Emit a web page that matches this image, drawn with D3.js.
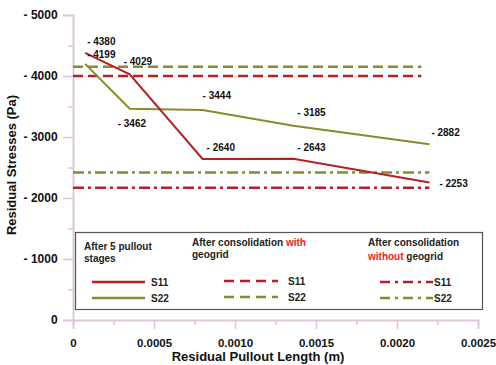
<!DOCTYPE html>
<html><head><meta charset="utf-8">
<script src="https://cdn.jsdelivr.net/npm/d3@7"></script>
<style>body{margin:0;background:#fff}svg{display:block;font-family:"Liberation Sans",Arial,sans-serif;font-weight:bold}</style>
</head><body><svg id="c" width="496" height="365"></svg>
<script>
const xPts = [0.000075, 0.00035, 0.0008, 0.00136, 0.0022];
const s11 = [4380, 4029, 2640, 2643, 2253];
const s22 = [4199, 3462, 3444, 3185, 2882];
const withGeo = {S11: 4000, S22: 4150};
const withoutGeo = {S11: 2170, S22: 2420};
const withEnd = 0.00215, withoutEnd = 0.0022;
const xTicks = [0, 0.0005, 0.0010, 0.0015, 0.0020, 0.0025];
const xTickLabels = ["0", "0.0005", "0.0010", "0.0015", "0.0020", "0.0025"];
const yTicks = [0, 1000, 2000, 3000, 4000, 5000];
const yTickLabels = ["0", "- 1000", "- 2000", "- 3000", "- 4000", "- 5000"];

const red = "#b32127", olive = "#8a8a2c", axisCol = "#d9c6d8";
const svg = d3.select("#c");
const x = d3.scaleLinear().domain([0, 0.0025]).range([73, 478]);
const y = d3.scaleLinear().domain([0, 5000]).range([320, 15]);

// axes
const gx = svg.append("g").attr("transform", "translate(0,320)")
  .call(d3.axisBottom(x).tickValues(xTicks).tickSize(9).tickFormat((d,i)=>xTickLabels[i]));
const gxm = svg.append("g").attr("transform", "translate(0,320)")
  .call(d3.axisBottom(x).tickValues(d3.range(0.00025, 0.0025, 0.0005)).tickSize(5).tickFormat(""));
const gy = svg.append("g").attr("transform", "translate(73,0)")
  .call(d3.axisLeft(y).tickValues(yTicks).tickSize(10).tickFormat((d,i)=>yTickLabels[i]));
const gym = svg.append("g").attr("transform", "translate(73,0)")
  .call(d3.axisLeft(y).tickValues(d3.range(500, 5000, 1000)).tickSize(5).tickFormat(""));
[gx,gxm,gy,gym].forEach(g=>{
  g.select(".domain").attr("stroke", axisCol).attr("stroke-width", 1.5);
  g.selectAll(".tick line").attr("stroke", axisCol).attr("stroke-width", 1.5);
  g.selectAll("text").attr("fill", "#111").style("font-weight", "bold").style("font-family", "Liberation Sans, Arial, sans-serif");
});
gx.selectAll("text").style("font-size", "11.5px").attr("dy", "1.3em");
gy.selectAll("text").style("font-size", "12px").attr("dx", "-0.2em");

// axis titles
svg.append("text").attr("x", 258).attr("y", 361).attr("text-anchor", "middle")
  .style("font-size", "13px").attr("fill", "#111").text("Residual Pullout Length (m)");
svg.append("text").attr("transform", "translate(16,165) rotate(-90)").attr("text-anchor", "middle")
  .style("font-size", "13px").attr("fill", "#111").text("Residual Stresses (Pa)");

// reference lines
const ref = [
  {v: withGeo.S22, c: olive, d: "10,5", e: withEnd},
  {v: withGeo.S11, c: red, d: "10,5", e: withEnd},
  {v: withoutGeo.S22, c: olive, d: "11,4,3,4", e: withoutEnd},
  {v: withoutGeo.S11, c: red, d: "11,4,3,4", e: withoutEnd}
];
ref.forEach(r=>{
  svg.append("line").attr("x1", x(0)).attr("x2", x(r.e)).attr("y1", y(r.v)).attr("y2", y(r.v))
    .attr("stroke", r.c).attr("stroke-width", 2.5).attr("stroke-dasharray", r.d);
});

// series
const line = d3.line().x(d=>x(d[0])).y(d=>y(d[1]));
svg.append("path").datum(xPts.map((v,i)=>[v,s22[i]])).attr("d", line).attr("fill","none").attr("stroke", olive).attr("stroke-width", 2);
svg.append("path").datum(xPts.map((v,i)=>[v,s11[i]])).attr("d", line).attr("fill","none").attr("stroke", red).attr("stroke-width", 2);

// data labels (offsets in px)
const lab11 = [[2,-8],[-6,-9],[4,-8],[4,-8],[10,4]];
const lab22 = [[2,-6],[-12,18],[0,-11],[4,-10],[2,-8]];
function labels(vals, offs){
  vals.forEach((v,i)=>{
    svg.append("text").attr("x", x(xPts[i])+offs[i][0]).attr("y", y(v)+offs[i][1])
      .style("font-size", "10px").attr("fill", "#111").text("- " + v);
  });
}
labels(s11, lab11);
labels(s22, lab22);

// legend
svg.append("rect").attr("x", 75.5).attr("y", 232.5).attr("width", 407).attr("height", 77)
  .attr("fill", "#fff").attr("stroke", "#555").attr("stroke-width", 1.2);
const lt = (xx, yy, parts) => {
  const t = svg.append("text").attr("x", xx).attr("y", yy).style("font-size", "10px").attr("fill", "#222");
  parts.forEach(p=>t.append("tspan").attr("fill", p[1]||"#222").text(p[0]));
};
lt(84, 250, [["After 5 pullout"]]);
lt(84, 262, [["stages"]]);
lt(192, 246, [["After consolidation "], ["with", "#e8242a"]]);
lt(192, 258, [["geogrid"]]);
lt(368, 246, [["After consolidation"]]);
lt(368, 260, [["without", "#e8242a"], [" geogrid"]]);
const legItems = [
  {x1: 92, x2: 145, tx: 151, yy: 282, c: red, d: null, t: "S11"},
  {x1: 92, x2: 145, tx: 151, yy: 298, c: olive, d: null, t: "S22"},
  {x1: 224, x2: 278, tx: 288, yy: 281, c: red, d: "10,6", t: "S11"},
  {x1: 224, x2: 278, tx: 288, yy: 297, c: olive, d: "10,6", t: "S22"},
  {x1: 380, x2: 433, tx: 434, yy: 282, c: red, d: "10,5,3,5", t: "S11"},
  {x1: 380, x2: 433, tx: 434, yy: 298, c: olive, d: "10,5,3,5", t: "S22"}
];
legItems.forEach(l=>{
  const ln = svg.append("line").attr("x1", l.x1).attr("x2", l.x2).attr("y1", l.yy).attr("y2", l.yy)
    .attr("stroke", l.c).attr("stroke-width", 2.5);
  if (l.d) ln.attr("stroke-dasharray", l.d);
  svg.append("text").attr("x", l.tx).attr("y", l.yy + 4).style("font-size", "10px").attr("fill", "#222").text(l.t);
});
</script></body></html>
